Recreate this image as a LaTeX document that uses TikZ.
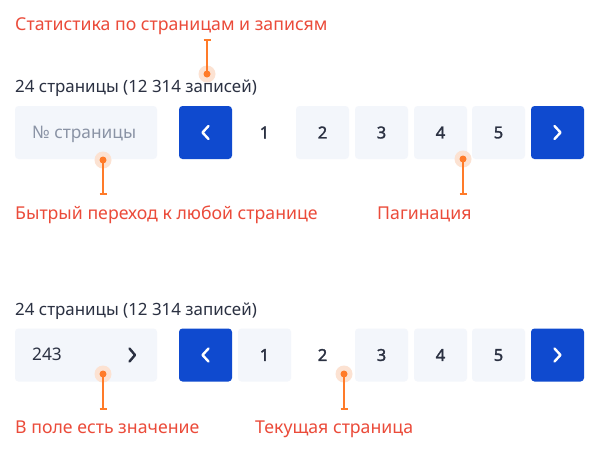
\documentclass[tikz,border=0pt]{standalone}
\usepackage{fontspec}
\setmainfont{Noto Sans}
\newfontfamily\numfont[FakeBold=1.8]{Noto Sans}
\definecolor{annred}{HTML}{EB4B3A}
\definecolor{annorange}{HTML}{FF7B29}
\definecolor{annhalo}{HTML}{FCE2D2}
\definecolor{btnblue}{HTML}{0F4ACF}
\definecolor{boxbg}{HTML}{F3F6FB}
\definecolor{darktext}{HTML}{2B3142}
\definecolor{graytext}{HTML}{8A93A5}
\tikzset{
  anntext/.style={anchor=base west, inner sep=0pt, text=annred, font=\fontsize{17.7}{20}\selectfont},
  stattext/.style={anchor=base west, inner sep=0pt, text=darktext, font=\fontsize{16.9}{20}\selectfont},
  fieldtext/.style={anchor=base west, inner sep=0pt, font=\fontsize{17.3}{20}\selectfont},
  inputbox/.style={fill=boxbg, rounded corners=3.5pt, draw=none, minimum width=142pt, minimum height=53pt, inner sep=0pt},
  pagebox/.style={fill=boxbg, rounded corners=3.5pt, draw=none, minimum width=53pt, minimum height=53pt, inner sep=0pt, text=darktext, font=\numfont\fontsize{16.5}{20}\selectfont},
  pageplain/.style={minimum width=53pt, minimum height=53pt, inner sep=0pt, text=darktext, font=\numfont\fontsize{16.5}{20}\selectfont},
  navbox/.style={fill=btnblue, rounded corners=3.5pt, draw=none, minimum width=53pt, minimum height=53pt, inner sep=0pt},
  chev/.style={line width=2.4pt, line cap=round, line join=round},
  annline/.style={draw=annorange, line width=1.3pt},
  halo/.style={fill=annhalo, draw=none, circle, minimum size=17pt, inner sep=0pt},
  dotc/.style={fill=annorange, draw=none, circle, minimum size=7pt, inner sep=0pt},
}
\begin{document}
\begin{tikzpicture}[x=1pt,y=-1pt]
\useasboundingbox[fill=white] (0,0) rectangle (602,451);

% ===== top block =====
\node[anntext] (t1) at (15,30) {Статистика по страницам и записям};
\node[stattext] (s1) at (15,92.5) {24 страницы (12 314 записей)};

\node[inputbox] (in1) at (86,132.5) {};
\node[fieldtext, text=graytext] (ph1) at (32,138) {№ страницы};

\node[navbox] (prev1) at (205.5,132.5) {};
\draw[chev, white] ([xshift=3pt,yshift=6.5pt]prev1.center) -- ([xshift=-3pt]prev1.center) -- ([xshift=3pt,yshift=-6.5pt]prev1.center);
\node[pageplain] (p11) at (264.5,132.5) {1};
\node[pagebox] (p12) at (322.5,132.5) {2};
\node[pagebox] (p13) at (381.5,132.5) {3};
\node[pagebox] (p14) at (440.5,132.5) {4};
\node[pagebox] (p15) at (498.5,132.5) {5};
\node[navbox] (next1) at (557.5,132.5) {};
\draw[chev, white] ([xshift=-3pt,yshift=6.5pt]next1.center) -- ([xshift=3pt]next1.center) -- ([xshift=-3pt,yshift=-6.5pt]next1.center);

% annotation: statistics
\node[halo] (h1) at (207,74) {};
\node[dotc] (d1) at (207,74) {};
\coordinate (e1) at (207,40);
\draw[annline] (d1.center) -- (e1);
\draw[annline] ([xshift=-3.5pt]e1) -- ([xshift=3.5pt]e1);

% annotation: quick jump
\node[halo] (h2) at (103,160) {};
\node[dotc] (d2) at (103,160) {};
\coordinate (e2) at (103,194);
\draw[annline] (d2.center) -- (e2);
\draw[annline] ([xshift=-3.5pt]e2) -- ([xshift=3.5pt]e2);
\node[anntext] (t2) at (15,219) {Бытрый переход к любой странице};

% annotation: pagination
\node[halo] (h3) at (463,159) {};
\node[dotc] (d3) at (463,159) {};
\coordinate (e3) at (463,194);
\draw[annline] (d3.center) -- (e3);
\draw[annline] ([xshift=-3.5pt]e3) -- ([xshift=3.5pt]e3);
\node[anntext] (t3) at (377,219) {Пагинация};

% ===== bottom block =====
\node[stattext] (s2) at (15,315) {24 страницы (12 314 записей)};
\node[inputbox] (in2) at (86,355) {};
\node[fieldtext, text=darktext] (v2) at (32,360.5) {243};
\coordinate (c2m) at (135,355);
\draw[chev, darktext] (129.5,348.5) -- (c2m) -- (129.5,361.5);

\node[navbox] (prev2) at (205.5,355) {};
\draw[chev, white] ([xshift=3pt,yshift=6.5pt]prev2.center) -- ([xshift=-3pt]prev2.center) -- ([xshift=3pt,yshift=-6.5pt]prev2.center);
\node[pagebox] (p21) at (264.5,355) {1};
\node[pageplain] (p22) at (322.5,355) {2};
\node[pagebox] (p23) at (381.5,355) {3};
\node[pagebox] (p24) at (440.5,355) {4};
\node[pagebox] (p25) at (498.5,355) {5};
\node[navbox] (next2) at (557.5,355) {};
\draw[chev, white] ([xshift=-3pt,yshift=6.5pt]next2.center) -- ([xshift=3pt]next2.center) -- ([xshift=-3pt,yshift=-6.5pt]next2.center);

% annotation: field has value
\node[halo] (h4) at (103,374) {};
\node[dotc] (d4) at (103,374) {};
\coordinate (e4) at (103,409);
\draw[annline] (d4.center) -- (e4);
\draw[annline] ([xshift=-3.5pt]e4) -- ([xshift=3.5pt]e4);
\node[anntext] (t4) at (15,433) {В поле есть значение};

% annotation: current page
\node[halo] (h5) at (344,374) {};
\node[dotc] (d5) at (344,374) {};
\coordinate (e5) at (344,409);
\draw[annline] (d5.center) -- (e5);
\draw[annline] ([xshift=-3.5pt]e5) -- ([xshift=3.5pt]e5);
\node[anntext] (t5) at (255,433) {Текущая страница};
\end{tikzpicture}
\end{document}
